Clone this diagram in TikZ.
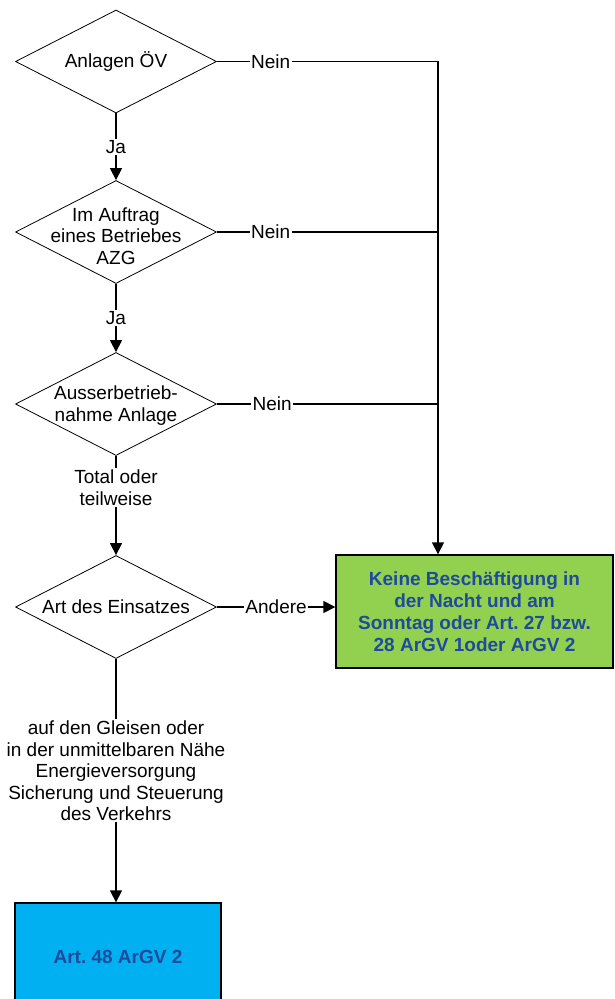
\documentclass[tikz,border=0pt]{standalone}
\usepackage{fontspec}
\setmainfont{Liberation Sans}
\usetikzlibrary{shapes.geometric,arrows.meta}
\definecolor{boxgreen}{HTML}{92D050}
\definecolor{boxblue}{HTML}{00B0F0}
\definecolor{boxtext}{HTML}{1F4A9E}
\frenchspacing

\begin{document}
\begin{tikzpicture}[x=1pt,y=-1pt,
  font=\fontsize{19}{21.5}\selectfont,
  decision/.style={diamond, draw, line width=0.8pt, inner sep=0pt,
    minimum width=201pt, minimum height=103pt},
  dtext/.style={align=center, inner sep=0pt},
  conn/.style={line width=1.3pt},
  arr/.style={-{Triangle[length=12pt,width=12pt]}},
  lbl/.style={fill=white, inner sep=1.5pt, align=center},
  result/.style={rectangle, draw, line width=1.3pt, align=center, text=boxtext,
    font=\fontsize{19}{22.2}\selectfont\bfseries}]

\clip (0,0) rectangle (614,999);

% decisions
\node[decision, label={[dtext]center:Anlagen ÖV}] (d1) at (116,61.5) {};
\node[decision, label={[dtext,yshift=-4pt]center:{Im Auftrag\\eines Betriebes\\AZG}}] (d2) at (116,232) {};
\node[decision, label={[dtext,yshift=-1.5pt]center:{Ausserbetrieb-\\nahme Anlage}}] (d3) at (116,404) {};
\node[decision, label={[dtext]center:Art des Einsatzes}] (d4) at (116,607) {};

% outcomes
\node[result, fill=boxgreen, minimum width=277pt, minimum height=113pt] (keine) at (474.5,611.5)
  {Keine Beschäftigung in\\der Nacht und am\\Sonntag oder Art. 27 bzw.\\28 ArGV 1oder ArGV 2};
\node[result, fill=boxblue, minimum width=206pt, minimum height=108pt] (art) at (118,957)
  {Art. 48 ArGV 2};

% collector for the "Nein" branches
\coordinate (j1) at (438,61.5);
\coordinate (j2) at (438,232);
\coordinate (j3) at (438,404);

\draw[conn,arr] (d1.east) -- node[lbl,pos=0.243]{Nein} (j1) -- (j1 |- keine.north);
\draw[conn] (d2.east) -- node[lbl,pos=0.243]{Nein} (j2);
\draw[conn] (d3.east) -- node[lbl,pos=0.25]{Nein} (j3);

% main flow
\draw[conn,arr] (d1.south) -- node[lbl]{Ja} (d2.north);
\draw[conn,arr] (d2.south) -- node[lbl]{Ja} (d3.north);
\draw[conn,arr] (d3.south) -- node[lbl,pos=0.32]{Total oder\\teilweise} (d4.north);
\draw[conn,arr] (d4.east) -- node[lbl]{Andere} (d4.east -| keine.west);
\draw[conn,arr] (d4.south) -- node[lbl,pos=0.46]{auf den Gleisen oder\\in der unmittelbaren Nähe\\Energieversorgung\\Sicherung und Steuerung\\des Verkehrs} (d4.south |- art.north);
\end{tikzpicture}
\end{document}
